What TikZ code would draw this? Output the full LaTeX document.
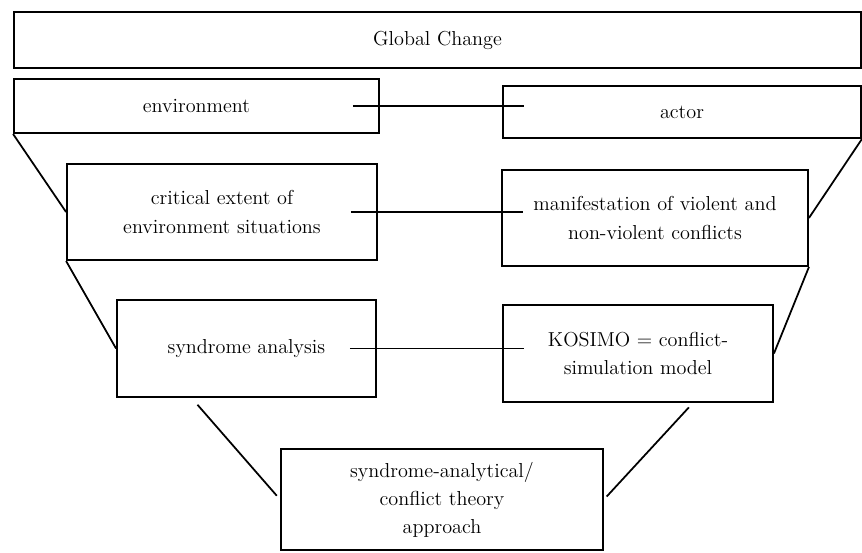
\documentclass[tikz,border=0pt]{standalone}
\usepackage{tikz}

\begin{document}
\begin{tikzpicture}[x=0.02cm,y=-0.02cm]
\tikzset{BoxStyle/.style= {draw,line width=1.1pt,align=center,inner sep=0pt,
  font=\fontsize{11.5}{16}\selectfont}}
\tikzset{LinkStyle/.style= {line width=1pt}}
\useasboundingbox (0,0) rectangle (862,552);
\node[BoxStyle,minimum width=16.94cm,minimum height=1.12cm] (glob) at (437.5,40) {Global Change};
\node[BoxStyle,minimum width=7.3cm,minimum height=1.08cm] (env) at (196.5,106) {environment};
\node[BoxStyle,minimum width=7.16cm,minimum height=1.04cm] (act) at (682,112) {actor};
\node[BoxStyle,minimum width=6.2cm,minimum height=1.92cm] (crit) at (222,212)
  {critical extent of\\environment situations};
\node[BoxStyle,minimum width=6.12cm,minimum height=1.92cm] (manif) at (655,218)
  {manifestation of violent and\\non-violent conflicts};
\node[BoxStyle,minimum width=5.18cm,minimum height=1.94cm] (synd) at (246.5,348.5) {syndrome analysis};
\node[BoxStyle,minimum width=5.4cm,minimum height=1.94cm] (kosimo) at (638,353.5)
  {KOSIMO = conflict-\\simulation model};
\node[BoxStyle,minimum width=6.44cm,minimum height=2.02cm] (appr) at (442,499.5)
  {syndrome-analytical/\\conflict theory\\approach};
% links between the two columns
\tikzset{LinkStyle/.append style = {shorten <=-0.54cm,shorten >=-0.44cm}}
\draw[LinkStyle] (env.east) -- (env.east -| act.west);
\draw[LinkStyle] (crit.east) -- (crit.east -| manif.west);
\draw[LinkStyle] (synd.east) -- (synd.east -| kosimo.west);
% funnel sides
\draw[line width=1pt] (env.south west) -- (crit.west);
\draw[line width=1pt] (crit.south west) -- (synd.west);
\draw[line width=1pt,shorten <=0.18cm,shorten >=0.1cm] (synd.222) -- (appr.west);
\draw[line width=1pt] (act.south east) -- (manif.east);
\draw[line width=1pt] (manif.south east) -- (kosimo.east);
\draw[line width=1pt,shorten <=0.12cm,shorten >=0.08cm] (kosimo.318) -- (appr.east);
\end{tikzpicture}
\end{document}
